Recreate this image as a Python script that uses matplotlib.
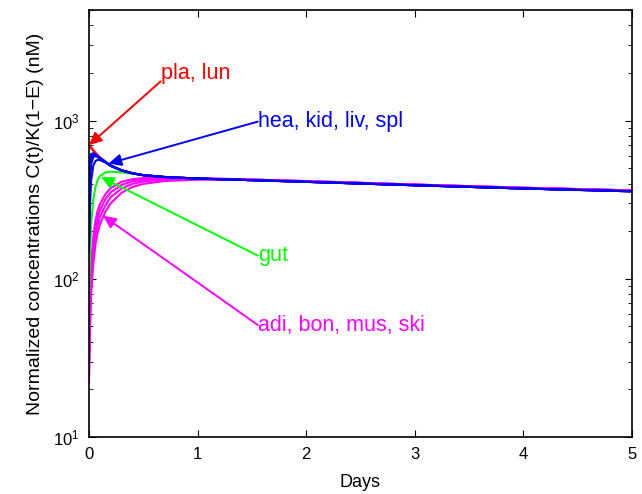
import matplotlib
matplotlib.use("Agg")
import matplotlib.pyplot as plt

plt.rcParams['font.family'] = ['Liberation Sans', 'DejaVu Sans']

# time points (days)
days = [0, 0.01, 0.02, 0.04, 0.06, 0.08, 0.1, 0.15, 0.2, 0.3, 0.4, 0.5, 0.7, 1.0, 1.5, 2, 3, 4, 5]

# plasma, lung (red)
pla = [700, 690, 675, 650, 625, 605, 585, 550, 520, 485, 465, 452, 440, 430, 420, 410, 390, 372, 358]
lun = [690, 682, 668, 645, 621, 601, 582, 548, 518, 484, 464, 451, 439, 430, 420, 410, 390, 372, 358]

# heart, kidney, liver, spleen (blue)
hea = [170, 560, 615, 622, 610, 597, 582, 550, 520, 485, 465, 452, 440, 430, 420, 410, 390, 372, 357]
kid = [160, 400, 530, 590, 595, 588, 577, 548, 518, 484, 464, 451, 439, 430, 420, 410, 390, 372, 357]
liv = [150, 300, 420, 520, 555, 565, 563, 543, 516, 483, 463, 451, 439, 430, 420, 410, 390, 372, 357]
spl = [165, 480, 580, 612, 606, 594, 580, 549, 519, 485, 465, 452, 440, 430, 420, 410, 390, 372, 357]

# gut (green)
gut = [75, 150, 220, 320, 380, 420, 445, 470, 475, 470, 462, 452, 440, 430, 420, 410, 390, 372, 358]

# adipose, bone, muscle, skin (magenta)
adi = [22, 50, 80, 125, 165, 195, 220, 265, 300, 350, 380, 398, 415, 423, 421, 413, 393, 375, 361]
bon = [25, 60, 95, 145, 190, 220, 245, 290, 328, 372, 398, 412, 425, 429, 423, 414, 394, 376, 362]
mus = [28, 70, 110, 165, 210, 245, 270, 318, 352, 392, 413, 423, 431, 431, 424, 414, 394, 376, 362]
ski = [30, 80, 125, 185, 235, 270, 295, 342, 375, 410, 426, 433, 436, 432, 424, 414, 394, 376, 362]

fig = plt.figure(figsize=(6.42, 4.94), dpi=100)
ax = fig.add_axes([0.1386, 0.1154, 0.8458, 0.8644])

lw = 1.5
for s in [adi, bon, mus, ski]:
    ax.plot(days, s, color=(1, 0, 1), lw=lw)
ax.plot(days, gut, color=(0, 1, 0), lw=lw)
for s in [pla, lun]:
    ax.plot(days, s, color=(1, 0, 0), lw=lw)
for s in [hea, kid, liv, spl]:
    ax.plot(days, s, color=(0, 0, 1), lw=lw)

ax.set_yscale('log')
ax.set_xlim(0, 5)
ax.set_ylim(10, 5000)
ax.set_xticks([0, 1, 2, 3, 4, 5])
ax.set_xticklabels(['0', '1', '2', '3', '4', '5'])
ax.tick_params(axis='both', which='both', direction='in', top=True, right=True,
               labelsize=12, pad=7)
ax.tick_params(which='major', length=5)
ax.tick_params(which='minor', length=3)
for sp in ax.spines.values():
    sp.set_linewidth(1.2)

ax.set_xlabel('Days', fontsize=13, labelpad=9)
ax.set_ylabel('Normalized concentrations C(t)/K(1\u2212E) (nM)', fontsize=14, labelpad=6)

ann = dict(arrowstyle='-|>,head_length=0.42,head_width=0.2', lw=1.4,
           mutation_scale=18, shrinkA=0, shrinkB=0)
fs = 15.5
# pla, lun
ax.annotate('', xy=(0.0, 700), xytext=(0.66, 1770),
            arrowprops=dict(color=(1, 0, 0), **ann))
ax.text(0.66, 1700, 'pla, lun', color=(1, 0, 0), fontsize=fs, ha='left', va='bottom')
# blue
ax.annotate('', xy=(0.18, 535), xytext=(1.555, 985),
            arrowprops=dict(color=(0, 0, 1), **ann))
ax.text(1.555, 985, 'hea, kid, liv, spl', color=(0, 0, 1), fontsize=fs, ha='left', va='center')
# gut
ax.annotate('', xy=(0.11, 440), xytext=(1.555, 140),
            arrowprops=dict(color=(0, 1, 0), **ann))
ax.text(1.555, 140, 'gut', color=(0, 1, 0), fontsize=fs, ha='left', va='center')
# magenta
ax.annotate('', xy=(0.13, 250), xytext=(1.555, 51),
            arrowprops=dict(color=(1, 0, 1), **ann))
ax.text(1.555, 51, 'adi, bon, mus, ski', color=(1, 0, 1), fontsize=fs, ha='left', va='center')

fig.savefig('out.png', dpi=100)
